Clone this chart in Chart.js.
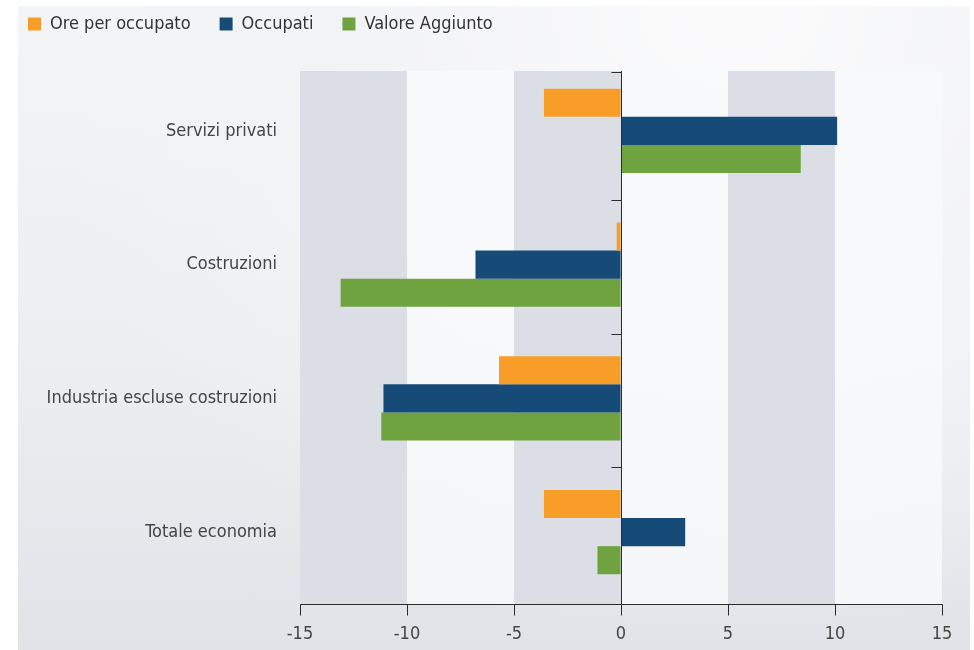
<!DOCTYPE html>
<html>
<head>
<meta charset="utf-8">
<script src="https://cdn.jsdelivr.net/npm/chart.js@4/dist/chart.umd.min.js"></script>
<style>
  body { margin: 0; background: #ffffff; }
  #bg {
    position: absolute; left: 18px; top: 6px; width: 952px; height: 644px;
    background: radial-gradient(ellipse at 75% 0%, #fbfbfc 0%, #f2f3f5 40%, rgba(236,237,240,0) 70%),
                linear-gradient(to bottom, #f3f4f6 0%, #eceef1 55%, #e1e3e8 100%);
  }
  #wrap { position: absolute; left: 0; top: 0; width: 974px; height: 650px; }
</style>
</head>
<body>
<div id="bg"></div>
<div id="wrap"><canvas id="chart"></canvas></div>
<script>
// categories, top to bottom
const categories = ['Servizi privati', 'Costruzioni', 'Industria escluse costruzioni', 'Totale economia'];

// series values (variazioni %)
const orePerOccupato = [-3.6, -0.2, -5.7, -3.6];
const occupati = [10.1, -6.8, -11.1, 3.0];
const valoreAggiunto = [8.4, -13.1, -11.2, -1.1];

// x axis ticks
const xMin = -15;
const xMax = 15;
const xStep = 5;

const fontFamily = "'Liberation Sans Narrow', 'DejaVu Sans Condensed', Roboto, sans-serif";

// the plotted frame sits a few px lower than the category bands
const frameTop = 7;
const frameBottom = 5;

// grey / light bands, zero line with small ticks, bottom axis line with ticks
const bandsPlugin = {
    id: 'bands',
    beforeDatasetsDraw(chart) {
        const ctx = chart.ctx;
        const x = chart.scales.x;
        const area = chart.chartArea;
        const top = area.top + frameTop;
        const bottom = area.bottom + frameBottom;
        ctx.save();
        let i = 0;
        for (let v = xMin; v < xMax; v += xStep) {
            const x1 = x.getPixelForValue(v);
            const x2 = x.getPixelForValue(v + xStep);
            ctx.fillStyle = (i % 2 === 0) ? '#dcdee5' : 'rgba(248,249,250,0.85)';
            ctx.fillRect(x1, top, x2 - x1, bottom - top);
            i++;
        }
        ctx.restore();
    },
    afterDatasetsDraw(chart) {
        const ctx = chart.ctx;
        const x = chart.scales.x;
        const x0 = Math.round(x.getPixelForValue(0)) + 0.5;
        const area = chart.chartArea;
        const top = area.top + frameTop;
        const bottom = Math.round(area.bottom + frameBottom) + 0.5;
        const h = (area.bottom - area.top) / categories.length;
        ctx.save();
        ctx.strokeStyle = '#2b2b2b';
        ctx.lineWidth = 1;
        ctx.beginPath();
        // zero line
        ctx.moveTo(x0, top);
        ctx.lineTo(x0, bottom);
        for (let i = 0; i < categories.length; i++) {
            const y = i === 0 ? Math.round(top) + 1.5 : Math.round(area.top + i * h) + 2.5;
            ctx.moveTo(x0 - 10, y);
            ctx.lineTo(x0, y);
        }
        // bottom axis
        const left = x.getPixelForValue(xMin);
        const right = x.getPixelForValue(xMax);
        ctx.moveTo(Math.round(left) + 0.5, bottom);
        ctx.lineTo(Math.round(right) + 0.5, bottom);
        x.ticks.forEach(t => {
            const px = Math.round(x.getPixelForValue(t.value)) + 0.5;
            ctx.moveTo(px, bottom);
            ctx.lineTo(px, bottom + 11);
        });
        ctx.stroke();
        ctx.restore();
    }
};

// make room under the legend so the plot starts at the right height
const legendSpace = {
    id: 'legendSpace',
    beforeInit(chart) {
        const fit = chart.legend.fit;
        chart.legend.fit = function () {
            fit.bind(chart.legend)();
            this.height = 78;
        };
    }
};

new Chart(document.getElementById('chart'), {
    type: 'bar',
    data: {
        labels: categories,
        datasets: [
            { label: 'Ore per occupato', data: orePerOccupato, backgroundColor: '#f89e28' },
            { label: 'Occupati', data: occupati, backgroundColor: '#164a77' },
            { label: 'Valore Aggiunto', data: valoreAggiunto, backgroundColor: '#6fa33f' }
        ]
    },
    options: {
        indexAxis: 'y',
        responsive: true,
        maintainAspectRatio: false,
        animation: false,
        barPercentage: 1,
        categoryPercentage: 0.63,
        layout: { padding: { top: -14, left: -1, right: 32, bottom: 0 } },
        plugins: {
            tooltip: { enabled: false },
            legend: {
                position: 'top',
                align: 'start',
                labels: {
                    boxWidth: 13,
                    boxHeight: 13,
                    padding: 29,
                    color: '#333333',
                    font: { family: fontFamily, size: 18 }
                }
            }
        },
        scales: {
            x: {
                min: xMin,
                max: xMax,
                afterFit(scale) { scale.height = 51; },
                ticks: {
                    stepSize: xStep,
                    color: '#444444',
                    padding: 14,
                    font: { family: fontFamily, size: 18 }
                },
                grid: {
                    drawOnChartArea: false,
                    drawTicks: true,
                    tickLength: 11,
                    color: 'rgba(0,0,0,0)'
                },
                border: { display: false }
            },
            y: {
                afterFit(scale) { scale.width = 301; },
                ticks: {
                    color: '#444444',
                    padding: 15,
                    font: { family: fontFamily, size: 18 }
                },
                grid: { display: false },
                border: { display: false }
            }
        }
    },
    plugins: [bandsPlugin, legendSpace]
});
</script>
</body>
</html>
